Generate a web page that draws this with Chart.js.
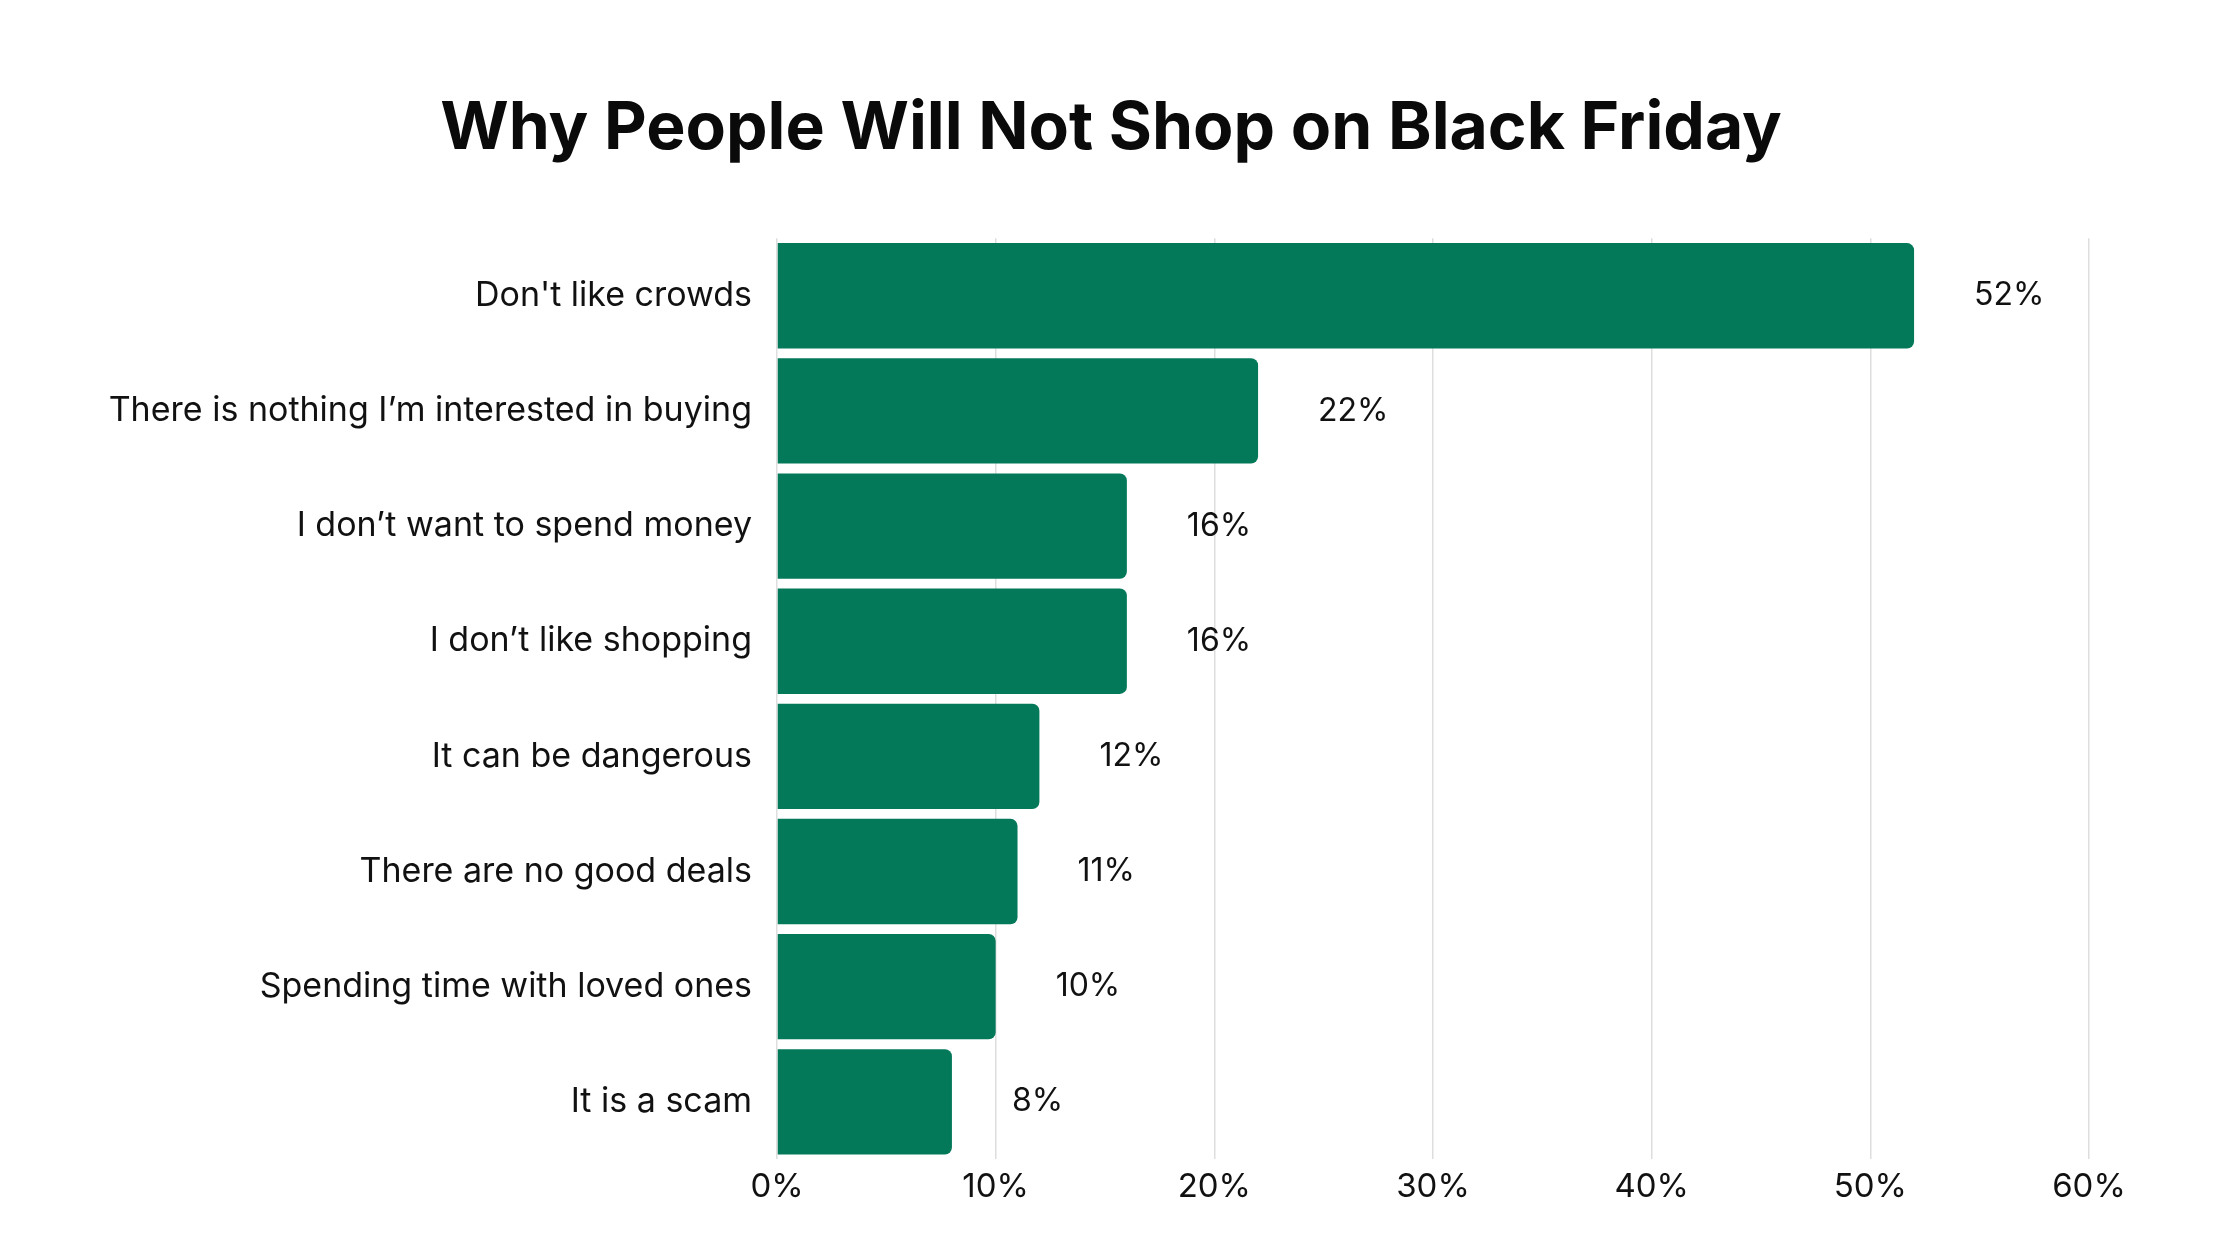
<!DOCTYPE html>
<html>
<head>
<meta charset="utf-8">
<script src="https://cdn.jsdelivr.net/npm/chart.js@4"></script>
<style>
  html, body { margin: 0; padding: 0; background: #fff; }
  #wrap { width: 2240px; height: 1260px; }
</style>
</head>
<body>
<div id="wrap"><canvas id="myChart" width="2240" height="1260"></canvas></div>
<script>
const reasons = [
    "Don't like crowds",
    "There is nothing I\u2019m interested in buying",
    "I don\u2019t want to spend money",
    "I don\u2019t like shopping",
    "It can be dangerous",
    "There are no good deals",
    "Spending time with loved ones",
    "It is a scam"
];
const shares = [52, 22, 16, 16, 12, 11, 10, 8];
const xTicks = [0, 10, 20, 30, 40, 50, 60];

const barGreen = '#04795a';

// value labels drawn next to the end of each bar
const valueLabels = {
    id: 'valueLabels',
    afterLayout(chart) {
        // let the long category labels use the space left of the axis box
        chart.scales.y.left = 0;
    },
    afterDatasetsDraw(chart) {
        const ctx = chart.ctx;
        const meta = chart.getDatasetMeta(0);
        ctx.save();
        ctx.font = '32px Inter';
        ctx.fillStyle = '#111';
        ctx.textAlign = 'left';
        ctx.textBaseline = 'middle';
        meta.data.forEach((bar, i) => {
            ctx.fillText(shares[i] + '%', bar.x + 60, bar.y);
        });
        ctx.restore();
    }
};

const ctxm = document.getElementById('myChart');
new Chart(ctxm, {
    type: 'bar',
    data: {
        labels: reasons,
        datasets: [{
            data: shares,
            backgroundColor: barGreen,
            borderRadius: 7,
            borderSkipped: 'start',
            categoryPercentage: 1,
            barPercentage: 0.915
        }]
    },
    options: {
        indexAxis: 'y',
        responsive: false,
        animation: false,
        devicePixelRatio: 1,
        layout: { padding: { top: 90, right: 151, bottom: 45, left: 133 } },
        plugins: {
            legend: { display: false },
            tooltip: { enabled: false },
            title: {
                display: true,
                text: 'Why People Will Not Shop on Black Friday',
                color: '#0a0a0a',
                font: { family: 'Inter', size: 66, weight: 'bold' },
                padding: { top: 0, bottom: 69 }
            }
        },
        scales: {
            x: {
                min: 0,
                max: 60,
                afterBuildTicks(scale) {
                    scale.ticks = xTicks.map(v => ({ value: v }));
                },
                grid: { color: '#dedede', lineWidth: 1.5, drawTicks: false },
                border: { display: false },
                ticks: {
                    padding: 8,
                    color: '#111',
                    font: { family: 'Inter', size: 33 },
                    callback: v => v + '%'
                }
            },
            y: {
                afterFit(scale) { scale.width = 644; },
                grid: { display: false },
                border: { display: false },
                ticks: {
                    padding: 17,
                    color: '#111',
                    font: { family: 'Inter', size: 34 }
                }
            }
        }
    },
    plugins: [valueLabels]
});
</script>
</body>
</html>
